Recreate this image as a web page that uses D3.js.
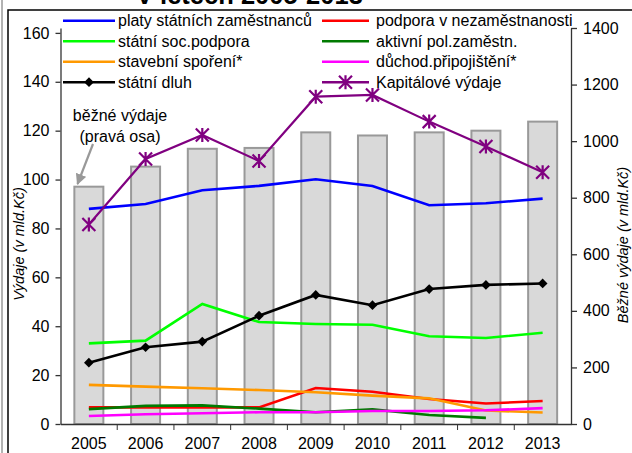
<!DOCTYPE html>
<html>
<head>
<meta charset="utf-8">
<script src="https://cdn.jsdelivr.net/npm/d3@7"></script>
<style>
  body { margin: 0; background: #fff; }
  text { font-family: "Liberation Sans", Arial, sans-serif; }
</style>
</head>
<body>
<div id="chart"></div>
<script>
// data
var years = ["2005", "2006", "2007", "2008", "2009", "2010", "2011", "2012", "2013"];
var bezneVydaje = [839, 910, 973, 976, 1031, 1020, 1031, 1037, 1069];   // right axis
var platy = [88.0, 90.0, 95.6, 97.4, 100.1, 97.4, 89.5, 90.3, 92.2];
var podpora = [6.8, 6.8, 6.8, 6.8, 14.7, 13.2, 10.2, 8.4, 9.4];
var socPodpora = [33.0, 34.1, 49.1, 41.7, 40.9, 40.6, 35.9, 35.2, 37.3];
var aktivni = [6.1, 7.4, 7.6, 6.3, 4.8, 6.0, 3.7, 2.5, null];
var stavebni = [16.0, 15.3, 14.6, 13.9, 13.0, 11.6, 10.5, 5.5, 4.7];
var duchod = [3.3, 4.0, 4.4, 4.8, 4.8, 5.3, 5.3, 5.6, 6.5];
var dluh = [25.1, 31.4, 33.7, 44.3, 52.8, 48.6, 55.2, 56.9, 57.5];
var kapital = [81.6, 108.4, 118.2, 107.6, 133.9, 134.6, 123.7, 113.5, 103.0];
var leftTicks = [0, 20, 40, 60, 80, 100, 120, 140, 160];
var rightTicks = [0, 200, 400, 600, 800, 1000, 1200, 1400];

var series = [
  {name: "platy státních zaměstnanců", values: platy, color: "#0000ff", col: 0, row: 0},
  {name: "podpora v nezaměstnanosti", values: podpora, color: "#ff0000", col: 1, row: 0},
  {name: "státní soc.podpora", values: socPodpora, color: "#00ff00", col: 0, row: 1},
  {name: "aktivní pol.zaměstn.", values: aktivni, color: "#007a00", col: 1, row: 1},
  {name: "stavební spoření*", values: stavebni, color: "#ff9900", col: 0, row: 2},
  {name: "důchod.připojištění*", values: duchod, color: "#ff00ff", col: 1, row: 2},
  {name: "státní dluh", values: dluh, color: "#000000", col: 0, row: 3, marker: "diamond"},
  {name: "Kapitálové výdaje", values: kapital, color: "#800080", col: 1, row: 3, marker: "star"}
];

var W = 632, H = 453;
var plotL = 60.5, plotR = 571, plotT = 28, plotB = 424;

var svg = d3.select("#chart").append("svg")
  .attr("width", W).attr("height", H);

svg.append("rect").attr("width", W).attr("height", H).attr("fill", "#fff");

// cut-off title
svg.append("text")
  .attr("x", 136).attr("y", 3.5)
  .attr("font-size", 25.5).attr("font-weight", "bold")
  .text("V letech 2005-2013");

// frame
svg.append("line").attr("x1", 2).attr("x2", 2).attr("y1", 0).attr("y2", H)
  .attr("stroke", "#666").attr("stroke-width", 1);
svg.append("rect").attr("x", 8).attr("y", 10).attr("width", 700).attr("height", 500)
  .attr("fill", "#fff").attr("stroke", "#000").attr("stroke-width", 1.5);

var x = d3.scaleBand().domain(years).range([plotL, plotR]);
var yL = d3.scaleLinear().domain([0, 162]).range([plotB, plotT]);
var yR = d3.scaleLinear().domain([0, 1400]).range([plotB, plotT]);

// bars (right axis)
svg.append("g").selectAll("rect")
  .data(bezneVydaje)
  .join("rect")
    .attr("x", function(d, i) { return x(years[i]) + x.bandwidth() / 2 - 14.5; })
    .attr("width", 29)
    .attr("y", function(d) { return yR(d); })
    .attr("height", function(d) { return plotB - yR(d); })
    .attr("fill", "#d9d9d9")
    .attr("stroke", "#999")
    .attr("stroke-width", 2);

// axes
var axL = svg.append("g")
  .attr("transform", "translate(" + plotL + ",0)")
  .call(d3.axisLeft(yL).tickValues(leftTicks).tickFormat(d3.format("d"))
    .tickSize(5).tickPadding(6).tickSizeOuter(0));
var axR = svg.append("g")
  .attr("transform", "translate(" + plotR + ",0)")
  .call(d3.axisRight(yR).tickValues(rightTicks).tickFormat(d3.format("d"))
    .tickSize(6).tickPadding(6).tickSizeOuter(0));
var axX = svg.append("g")
  .attr("transform", "translate(0," + plotB + ")")
  .call(d3.axisBottom(x).tickSize(0).tickPadding(14).tickSizeOuter(0));
// category boundary ticks
axX.selectAll(".bound")
  .data(years.slice(1))
  .join("line")
    .attr("class", "bound")
    .attr("x1", function(d) { return x(d); })
    .attr("x2", function(d) { return x(d); })
    .attr("y1", 0).attr("y2", 6)
    .attr("stroke", "#333");

[axL, axR, axX].forEach(function(a) {
  a.selectAll("path").attr("stroke", "#333").attr("stroke-width", 1.3);
  a.selectAll(".tick line").attr("stroke", "#333").attr("stroke-width", 1.3);
  a.selectAll("text").attr("font-size", 16).attr("fill", "#000")
    .style("font-family", "'Liberation Sans', Arial, sans-serif");
});

// axis titles
svg.append("text")
  .attr("transform", "translate(24,244) rotate(-90)")
  .attr("text-anchor", "middle").attr("font-size", 14.5).attr("font-style", "italic")
  .text("Výdaje (v mld.Kč)");
svg.append("text")
  .attr("transform", "translate(628,245) rotate(-90)")
  .attr("text-anchor", "middle").attr("font-size", 14.5).attr("font-style", "italic")
  .text("Běžné výdaje (v mld.Kč)");

// lines
var cx = function(i) { return x(years[i]) + x.bandwidth() / 2; };
var line = d3.line()
  .defined(function(d) { return d != null; })
  .x(function(d, i) { return cx(i); })
  .y(function(d) { return yL(d); });

var diamond = d3.symbol().type(d3.symbolDiamond2).size(60);

function drawMarker(g, type, color) {
  if (type === "diamond") {
    g.append("path").attr("d", diamond()).attr("fill", color);
  } else if (type === "star") {
    var s = 6.5;
    g.append("path")
      .attr("d", "M" + (-s) + "," + (-s) + "L" + s + "," + s +
                 "M" + (-s) + "," + s + "L" + s + "," + (-s) +
                 "M0," + (-s - 0.5) + "L0," + (s + 0.5))
      .attr("stroke", color).attr("stroke-width", 2.2).attr("fill", "none");
  }
}

series.forEach(function(s) {
  svg.append("path")
    .datum(s.values)
    .attr("d", line)
    .attr("fill", "none")
    .attr("stroke", s.color)
    .attr("stroke-width", s.marker === "star" ? 2.2 : 2.6);
  if (s.marker) {
    s.values.forEach(function(v, i) {
      if (v == null) return;
      var g = svg.append("g").attr("transform", "translate(" + cx(i) + "," + yL(v) + ")");
      drawMarker(g, s.marker, s.color);
    });
  }
});

// annotation for bars
svg.append("defs").append("marker")
  .attr("id", "arrow").attr("viewBox", "0 0 10 10")
  .attr("refX", 9).attr("refY", 5)
  .attr("markerWidth", 5).attr("markerHeight", 5)
  .attr("markerUnits", "strokeWidth")
  .attr("orient", "auto")
  .append("path").attr("d", "M0,0L10,5L0,10z").attr("fill", "#999");
svg.append("line")
  .attr("x1", 93).attr("y1", 144).attr("x2", 77.5).attr("y2", 184)
  .attr("stroke", "#999").attr("stroke-width", 2.2)
  .attr("marker-end", "url(#arrow)");
svg.append("text").attr("x", 120).attr("y", 121)
  .attr("text-anchor", "middle").attr("font-size", 16).text("běžné výdaje");
svg.append("text").attr("x", 120).attr("y", 142)
  .attr("text-anchor", "middle").attr("font-size", 16).text("(pravá osa)");

// legend
var legX = [63, 322], legW = [52, 47], rowY = [20.7, 41.2, 61.7, 82.2];
var leg = svg.append("g");
series.forEach(function(s) {
  var x0 = legX[s.col], y0 = rowY[s.row];
  leg.append("line")
    .attr("x1", x0).attr("x2", x0 + legW[s.col])
    .attr("y1", y0).attr("y2", y0)
    .attr("stroke", s.color).attr("stroke-width", 2.6);
  if (s.marker) {
    var g = leg.append("g").attr("transform", "translate(" + (x0 + legW[s.col] / 2) + "," + y0 + ")");
    drawMarker(g, s.marker, s.color);
  }
  leg.append("text")
    .attr("x", x0 + legW[s.col] + (s.col ? 7 : 3)).attr("y", y0 + 5.5)
    .attr("font-size", 16).text(s.name);
});
</script>
</body>
</html>
